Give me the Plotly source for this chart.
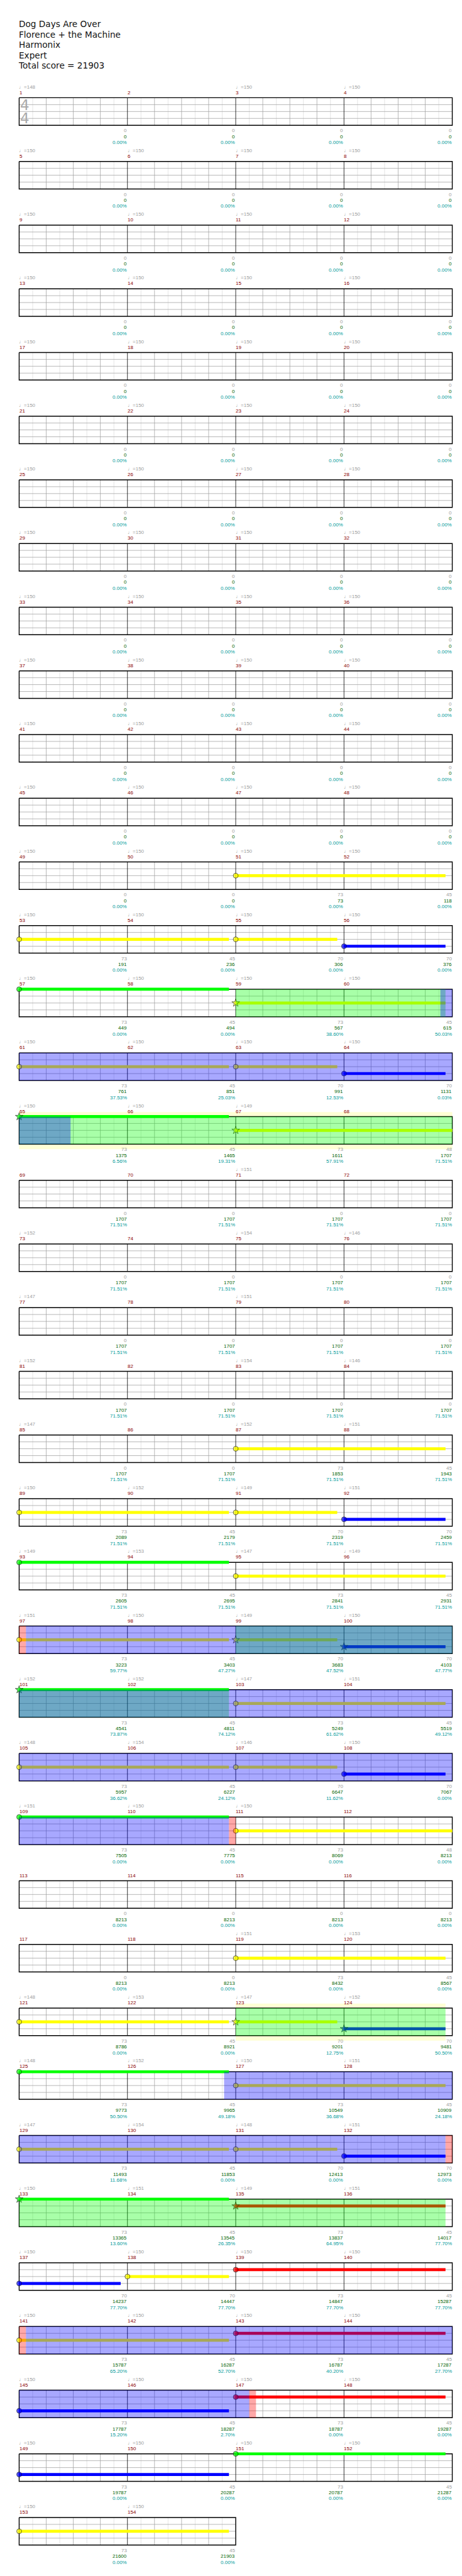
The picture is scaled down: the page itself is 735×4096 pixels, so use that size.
import plotly.graph_objects as go

# ---------------- figure geometry ----------------
W, H = 735, 4096
REF_W, REF_H = 1024, 5704
S = W / REF_W

# ---------------- data ----------------
TITLE_LINES = ["Dog Days Are Over", "Florence + the Machine", "Harmonix", "Expert",
               "Total score = 21903"]
N_MEASURES = 154
MEASURES_PER_ROW = 4
BEATS_PER_MEASURE = 4

# tempo markers (measure number -> bpm)
TEMPO_MEASURE = [1, 3, 4, 5, 6, 7, 8, 9, 10, 11, 12, 13, 14, 15, 16, 17, 18, 19, 20,
                 21, 22, 23, 24, 25, 26, 27, 28, 29, 30, 31, 32, 33, 34, 35, 36, 37, 38,
                 39, 40, 41, 42, 43, 44, 45, 46, 47, 48, 49, 50, 51, 52, 53, 54, 55, 56,
                 57, 58, 59, 60, 61, 62, 63, 64, 65, 66, 67, 71, 73, 75, 76, 77, 79, 81,
                 83, 84, 85, 87, 88, 89, 90, 91, 92, 93, 94, 95, 96, 97, 98, 99, 100,
                 101, 102, 103, 104, 105, 106, 107, 108, 109, 110, 111, 119, 120, 121,
                 122, 123, 124, 125, 126, 127, 128, 129, 130, 131, 132, 133, 134, 135,
                 136, 137, 138, 139, 140, 141, 142, 143, 144, 145, 146, 147, 148, 149,
                 150, 151, 152, 153, 154]
TEMPO_BPM = [148, 150, 150, 150, 150, 150, 150, 150, 150, 150, 150, 150, 150, 150, 150,
             150, 150, 150, 150, 150, 150, 150, 150, 150, 150, 150, 150, 150, 150, 150,
             150, 150, 150, 150, 150, 150, 150, 150, 150, 150, 150, 150, 150, 150, 150,
             150, 150, 150, 150, 150, 150, 150, 150, 150, 150, 150, 150, 150, 150, 150,
             150, 150, 150, 150, 150, 149, 151, 152, 154, 146, 147, 151, 152,
             154, 146, 147, 152, 151, 150, 152, 149, 151, 149, 153, 147, 149, 151, 150,
             149, 150, 152, 152, 147, 151, 148, 154, 146, 150, 151, 150, 150, 151, 153,
             148, 153, 147, 152, 148, 152, 150, 151, 147, 154, 148, 151, 150, 151, 149,
             151, 150, 150, 150, 150, 150, 150, 150, 150, 150, 150, 150, 150, 150,
             150, 150, 150, 150, 150]

# points per measure, running total, overdrive percentage
MEASURE_PTS = [0, 0, 0, 0,  0, 0, 0, 0,  0, 0, 0, 0,  0, 0, 0, 0,
               0, 0, 0, 0,  0, 0, 0, 0,  0, 0, 0, 0,  0, 0, 0, 0,
               0, 0, 0, 0,  0, 0, 0, 0,  0, 0, 0, 0,  0, 0, 0, 0,
               0, 0, 73, 45,  73, 45, 70, 70,  73, 45, 73, 45,  73, 45, 70, 70,
               73, 45, 73, 48,  0, 0, 0, 0,  0, 0, 0, 0,  0, 0, 0, 0,
               0, 0, 0, 0,  0, 0, 73, 45,  73, 45, 70, 70,  73, 45, 73, 45,
               73, 45, 70, 70,  73, 45, 73, 45,  73, 45, 70, 70,  73, 45, 73, 48,
               0, 0, 0, 0,  0, 0, 73, 45,  73, 45, 70, 70,  73, 45, 73, 45,
               73, 45, 70, 70,  73, 45, 73, 45,  70, 70, 73, 45,  73, 45, 73, 45,
               73, 45, 73, 45,  73, 45, 73, 45,  73, 45]
TOTAL_PTS = [0, 0, 0, 0,  0, 0, 0, 0,  0, 0, 0, 0,  0, 0, 0, 0,
             0, 0, 0, 0,  0, 0, 0, 0,  0, 0, 0, 0,  0, 0, 0, 0,
             0, 0, 0, 0,  0, 0, 0, 0,  0, 0, 0, 0,  0, 0, 0, 0,
             0, 0, 73, 118,  191, 236, 306, 376,  449, 494, 567, 615,
             761, 851, 991, 1131,  1375, 1465, 1611, 1707,
             1707, 1707, 1707, 1707,  1707, 1707, 1707, 1707,  1707, 1707, 1707, 1707,
             1707, 1707, 1707, 1707,  1707, 1707, 1853, 1943,
             2089, 2179, 2319, 2459,  2605, 2695, 2841, 2931,  3223, 3403, 3683, 4103,
             4541, 4811, 5249, 5519,  5957, 6227, 6647, 7067,  7505, 7775, 8069, 8213,
             8213, 8213, 8213, 8213,  8213, 8213, 8432, 8567,  8786, 8921, 9201, 9481,
             9773, 9965, 10549, 10909,  11493, 11853, 12413, 12973,
             13365, 13545, 13837, 14017,  14237, 14447, 14847, 15287,
             15787, 16287, 16787, 17287,  17787, 18287, 18787, 19287,
             19787, 20287, 20787, 21287,  21600, 21903]
PCT = [0.00, 0.00, 0.00, 0.00,  0.00, 0.00, 0.00, 0.00,  0.00, 0.00, 0.00, 0.00,
       0.00, 0.00, 0.00, 0.00,  0.00, 0.00, 0.00, 0.00,  0.00, 0.00, 0.00, 0.00,
       0.00, 0.00, 0.00, 0.00,  0.00, 0.00, 0.00, 0.00,  0.00, 0.00, 0.00, 0.00,
       0.00, 0.00, 0.00, 0.00,  0.00, 0.00, 0.00, 0.00,  0.00, 0.00, 0.00, 0.00,
       0.00, 0.00, 0.00, 0.00,  0.00, 0.00, 0.00, 0.00,  0.00, 0.00, 38.60, 50.03,
       37.53, 25.03, 12.53, 0.03,  6.56, 19.31, 57.91, 71.51,
       71.51, 71.51, 71.51, 71.51,  71.51, 71.51, 71.51, 71.51,  71.51, 71.51, 71.51, 71.51,
       71.51, 71.51, 71.51, 71.51,  71.51, 71.51, 71.51, 71.51,  71.51, 71.51, 71.51, 71.51,
       71.51, 71.51, 71.51, 71.51,  59.77, 47.27, 47.52, 47.77,
       73.87, 74.12, 61.62, 49.12,  36.62, 24.12, 11.62, 0.00,  0.00, 0.00, 0.00, 0.00,
       0.00, 0.00, 0.00, 0.00,  0.00, 0.00, 0.00, 0.00,  0.00, 0.00, 12.75, 50.50,
       50.50, 49.18, 36.68, 24.18,  11.68, 0.00, 0.00, 0.00,  13.60, 26.35, 64.95, 77.70,
       77.70, 77.70, 77.70, 77.70,  65.20, 52.70, 40.20, 27.70,  15.20, 2.70, 0.00, 0.00,
       0.00, 0.00, 0.00, 0.00,  0.00, 0.00]

# notes: measure, beat, lane (0 green .. 4 orange), sustain length in beats, star note
NOTE_MEASURE = [51, 53, 55, 56, 57, 59, 61, 63, 64, 65, 67, 87, 89, 91, 92, 93, 95,
                97, 99, 100, 101, 103, 105, 107, 108, 109, 111, 119, 121, 123, 124,
                125, 127, 129, 131, 132, 133, 135, 137, 138, 139, 141, 143, 145, 147,
                149, 151, 153]
NOTE_BEAT = [0, 0, 0, 0, 0, 0, 0, 0, 0, 0, 0, 0, 0, 0, 0, 0, 0, 0, 0, 0, 0,
             0, 0, 0, 0, 0, 0, 0, 0, 0, 0, 0, 0, 0, 0, 0, 0, 0, 0, 0, 0, 0,
             0, 0, 0, 0, 0, 0]
NOTE_LANE = [2, 2, 2, 3, 0, 2, 2, 2, 3, 0, 2, 2, 2, 2, 3, 0, 2, 2, 2, 3, 0, 2, 2, 2,
             3, 0, 2, 2, 2, 2, 3, 0, 2, 2, 2, 3, 0, 1, 3, 2, 1, 2, 1, 3, 1, 3, 0, 2]
NOTE_LEN = [7.75, 7.75, 3.75, 3.75, 7.75, 7.75, 7.75, 3.75, 3.75, 7.75, 8, 7.75,
            7.75, 3.75, 3.75, 7.75, 7.75, 7.75, 3.75, 3.75, 7.75, 7.75, 7.75, 3.75,
            3.75, 7.75, 8, 7.75, 7.75, 3.75, 3.75, 7.75, 7.75, 7.75, 3.75, 3.75,
            7.75, 7.75, 3.75, 3.75, 7.75, 7.75, 7.75, 7.75, 7.75, 7.75, 7.75, 7.75]
NOTE_STAR = [0, 0, 0, 0, 0, 1, 0, 0, 0, 1, 1, 0, 0, 0, 0, 0, 0, 0, 1, 1, 1, 0, 0, 0,
             0, 0, 0, 0, 0, 1, 1, 0, 0, 0, 0, 0, 1, 1, 0, 0, 0, 0, 0, 0, 0, 0, 0, 0]

# shaded phrases: (start measure, start beat, end measure, end beat)
SP_PHRASES = [(59, 0, 60, 3.75), (65, 0, 69, 0), (99, 0, 102, 3.75),
              (123, 0, 124, 3.75), (133, 0, 136, 3.75)]
OD_ACTIVE = [(60, 3.56, 65, 1.9), (97, 0.25, 110, 3.75), (126, 3.57, 132, 3.75),
             (141, 0.25, 147, 0.5)]
OD_GAP = [(97, 0, 97, 0.25), (110, 3.75, 111, 0), (132, 3.75, 133, 0),
          (141, 0, 141, 0.25), (147, 0.5, 147, 0.75)]
SOLO_BAND = [(65, 0, 69, 0), (123, 0, 124, 3.75)]

# ---------------- layout constants (reference pixels) ----------------
LEFT = 31.3
BEAT_W = 60.0
TOP0 = 205.3
PITCH = 141.0
STAFF_H = 61.0
LANE_H = STAFF_H / 4

LANE_COLORS = ["#00ff00", "#ff0000", "#ffff00", "#0000ff", "#ff8000"]
GRID_LIGHT = "#dcdcdc"
GRID_MID = "#a0a0a0"
N_ROWS = (N_MEASURES + MEASURES_PER_ROW - 1) // MEASURES_PER_ROW
ROW_BEATS = MEASURES_PER_ROW * BEATS_PER_MEASURE


def row_top(r):
    return TOP0 + r * PITCH


def row_width(r):
    return min(MEASURES_PER_ROW, N_MEASURES - r * MEASURES_PER_ROW) * BEATS_PER_MEASURE


def abs_beat(m, b):
    return (m - 1) * BEATS_PER_MEASURE + b


def split_span(a0, a1):
    """split an absolute beat span into per-row pieces (row, x0, x1)."""
    out = []
    a = a0
    while a < a1 - 1e-9:
        r = int(a // ROW_BEATS)
        end = min(a1, (r + 1) * ROW_BEATS)
        out.append((r, a - r * ROW_BEATS, end - r * ROW_BEATS))
        a = end
    return out


fig = go.Figure()
shapes = []
annotations = []

# solo bands (behind staff)
for (m0, b0, m1, b1) in SOLO_BAND:
    for r, x0, x1 in split_span(abs_beat(m0, b0), abs_beat(m1, b1)):
        t = row_top(r)
        shapes.append(dict(type="rect", xref="x", yref="y", x0=x0, x1=x1,
                           y0=t - 10, y1=t + STAFF_H + 11, layer="below",
                           fillcolor="#ffffd5", line=dict(width=0)))

# staff backgrounds
for r in range(N_ROWS):
    t = row_top(r)
    shapes.append(dict(type="rect", xref="x", yref="y", x0=0, x1=row_width(r),
                       y0=t, y1=t + STAFF_H, layer="below",
                       fillcolor="white", line=dict(width=0)))

# grid
lx, ly, mx, my, bx, by, ox, oy = [], [], [], [], [], [], [], []
for r in range(N_ROWS):
    t = row_top(r)
    bot = t + STAFF_H
    wdt = row_width(r)
    for k in range(wdt):
        lx += [k + 0.5, k + 0.5, None]
        ly += [t, bot, None]
    for k in range(1, wdt):
        if k % BEATS_PER_MEASURE:
            mx += [k, k, None]
            my += [t, bot, None]
        else:
            bx += [k, k, None]
            by += [t, bot, None]
    for k in range(1, 4):
        mx += [0, wdt, None]
        my += [t + k * LANE_H, t + k * LANE_H, None]
    ox += [0, wdt, wdt, 0, 0, None]
    oy += [t, t, bot, bot, t, None]

fig.add_trace(go.Scatter(x=lx, y=ly, mode="lines", line=dict(color=GRID_LIGHT, width=0.75),
                         hoverinfo="skip"))
fig.add_trace(go.Scatter(x=mx, y=my, mode="lines", line=dict(color=GRID_MID, width=0.75),
                         hoverinfo="skip"))
fig.add_trace(go.Scatter(x=bx, y=by, mode="lines", line=dict(color="black", width=0.8),
                         hoverinfo="skip"))
fig.add_trace(go.Scatter(x=ox, y=oy, mode="lines", line=dict(color="black", width=1.4),
                         hoverinfo="skip"))

# sustains
for lane in range(5):
    sx, sy = [], []
    for m, b, ln, L in zip(NOTE_MEASURE, NOTE_BEAT, NOTE_LANE, NOTE_LEN):
        if ln != lane:
            continue
        for r, x0, x1 in split_span(abs_beat(m, b), abs_beat(m, b) + L):
            yy = row_top(r) + ln * LANE_H
            sx += [x0, x1, None]
            sy += [yy, yy, None]
    if sx:
        fig.add_trace(go.Scatter(x=sx, y=sy, mode="lines",
                                 line=dict(color=LANE_COLORS[lane], width=6.5 * S),
                                 hoverinfo="skip"))

# note heads
for lane in range(5):
    hx, hy, sym = [], [], []
    for m, b, ln, st in zip(NOTE_MEASURE, NOTE_BEAT, NOTE_LANE, NOTE_STAR):
        if ln != lane:
            continue
        a = abs_beat(m, b)
        r = int(a // ROW_BEATS)
        hx.append(a - r * ROW_BEATS)
        hy.append(row_top(r) + ln * LANE_H)
        sym.append("star" if st else "circle")
    if hx:
        fig.add_trace(go.Scatter(x=hx, y=hy, mode="markers",
                                 marker=dict(color=LANE_COLORS[lane], symbol=sym,
                                             size=[11 * S if s == "circle" else 13 * S for s in sym],
                                             line=dict(color="black", width=0.8)),
                                 hoverinfo="skip"))

# overlays (drawn on top)
for spans, col in ((SP_PHRASES, "rgba(0,255,0,0.34)"), (OD_ACTIVE, "rgba(0,0,255,0.34)"),
                   (OD_GAP, "rgba(255,0,0,0.34)")):
    for (m0, b0, m1, b1) in spans:
        for r, x0, x1 in split_span(abs_beat(m0, b0), abs_beat(m1, b1)):
            t = row_top(r)
            shapes.append(dict(type="rect", xref="x", yref="y", x0=x0, x1=x1,
                               y0=t, y1=t + STAFF_H, layer="above",
                               fillcolor=col, line=dict(width=0)))

# texts
SMALL = "Liberation Sans, Arial, sans-serif"
FS = 11.2 * S


def text(x, y, s, color, anchor="left", size=FS, family=SMALL):
    annotations.append(dict(x=x, y=y, xref="x", yref="y", text=s, showarrow=False,
                            xanchor=anchor, yanchor="middle", borderpad=0, borderwidth=0,
                            font=dict(family=family, size=size, color=color)))


for i, line in enumerate(TITLE_LINES):
    text(-0.01 if i < 4 else -0.04, 42.3 + i * 23.0, line, "#111111", size=19 * S,
         family="DejaVu Sans, sans-serif")

tempo_at = dict(zip(TEMPO_MEASURE, TEMPO_BPM))
for m in range(1, N_MEASURES + 1):
    i = m - 1
    r = i // MEASURES_PER_ROW
    x0 = (i % MEASURES_PER_ROW) * BEATS_PER_MEASURE
    x1 = x0 + BEATS_PER_MEASURE
    t = row_top(r)
    bot = t + STAFF_H
    if m in tempo_at:
        text(x0 - 0.005, t - 24, "\u2669=" + str(tempo_at[m]), "#a0a0a0")
    text(x0 + 0.005, t - 11.6, str(m), "#8b0000")
    text(x1 - 0.02, bot + 12, str(MEASURE_PTS[i]), "#a0a0a0", anchor="right")
    text(x1 - 0.02, bot + 25, str(TOTAL_PTS[i]), "#006400", anchor="right")
    text(x1 - 0.02, bot + 38, "%.2f%%" % PCT[i], "#009a9a", anchor="right")

# time signature
text(0.2, row_top(0) + 16, "4", "#aaaaaa", anchor="center", size=32 * S,
     family="DejaVu Sans, sans-serif")
text(0.2, row_top(0) + 46, "4", "#aaaaaa", anchor="center", size=32 * S,
     family="DejaVu Sans, sans-serif")

fig.update_layout(
    width=W, height=H, margin=dict(l=0, r=0, t=0, b=0),
    paper_bgcolor="white", plot_bgcolor="white", showlegend=False,
    shapes=shapes, annotations=annotations,
    xaxis=dict(range=[-LEFT / BEAT_W, (REF_W - LEFT) / BEAT_W], visible=False, fixedrange=True),
    yaxis=dict(range=[REF_H, 0], visible=False, fixedrange=True),
)
fig.write_html("out.html")
